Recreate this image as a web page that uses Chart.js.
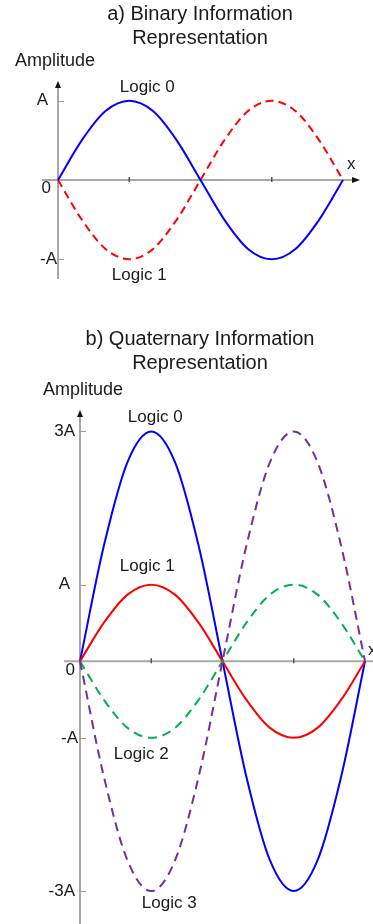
<!DOCTYPE html>
<html>
<head>
<meta charset="utf-8">
<script src="https://cdn.jsdelivr.net/npm/chart.js@4/dist/chart.umd.min.js"></script>
<style>
  html, body { margin: 0; padding: 0; background: #fff; }
  canvas { display: block; }
</style>
</head>
<body>
<canvas id="binary" width="373" height="300"></canvas>
<canvas id="quaternary" width="373" height="624"></canvas>
<script>
// one full period, 12 steps
const phase = ['0', '1', '2', '3', '4', '5', '6', '7', '8', '9', '10', '11', '12'];

// a) binary: amplitude A
const binLogic0 = [0, 0.5, 0.87, 1, 0.87, 0.5, 0, -0.5, -0.87, -1, -0.87, -0.5, 0];
const binLogic1 = [0, -0.5, -0.87, -1, -0.87, -0.5, 0, 0.5, 0.87, 1, 0.87, 0.5, 0];
const binTickValues = [1, 0, -1];
const binTickLabels = ['A', '0', '-A'];

// b) quaternary: amplitudes 3A and A
const quatLogic0 = [0, 1.5, 2.6, 3, 2.6, 1.5, 0, -1.5, -2.6, -3, -2.6, -1.5, 0];
const quatLogic1 = [0, 0.5, 0.87, 1, 0.87, 0.5, 0, -0.5, -0.87, -1, -0.87, -0.5, 0];
const quatLogic2 = [0, -0.5, -0.87, -1, -0.87, -0.5, 0, 0.5, 0.87, 1, 0.87, 0.5, 0];
const quatLogic3 = [0, -1.5, -2.6, -3, -2.6, -1.5, 0, 1.5, 2.6, 3, 2.6, 1.5, 0];
const quatTickValues = [3, 1, 0, -1, -3];
const quatTickLabels = ['3A', 'A', '0', '-A', '-3A'];

const FONT = "'Liberation Sans', Arial, sans-serif";
const INK = '#1a1a1a';

function text(ctx, str, x, y, size, align) {
  ctx.font = size + 'px ' + FONT;
  ctx.fillStyle = INK;
  ctx.textAlign = align || 'center';
  ctx.textBaseline = 'middle';
  ctx.fillText(str, x, y);
}

// axes with arrows, tick marks and all labels drawn round the plot
function decorations(cfg) {
  return {
    id: 'decorations',
    beforeDatasetsDraw(chart) {
      const { ctx, chartArea, scales: { x, y } } = chart;
      const x0 = x.getPixelForValue(0);
      const y0 = y.getPixelForValue(0);
      ctx.save();
      ctx.strokeStyle = '#a8a8a8';
      ctx.lineWidth = 2;
      ctx.beginPath();
      ctx.moveTo(cfg.xAxisFrom, y0);
      ctx.lineTo(cfg.xAxisTo, y0);
      ctx.moveTo(x0, chartArea.top + 2);
      ctx.lineTo(x0, chartArea.bottom);
      ctx.stroke();

      // y tick marks
      ctx.strokeStyle = '#9a9a9a';
      ctx.lineWidth = 1;
      cfg.tickValues.forEach(v => {
        if (v === 0) return;
        const py = Math.round(y.getPixelForValue(v)) + 0.5;
        ctx.beginPath();
        ctx.moveTo(x0, py);
        ctx.lineTo(x0 + 6, py);
        ctx.stroke();
      });
      // x tick marks at the peaks
      ctx.strokeStyle = '#555';
      ctx.lineWidth = 1.5;
      [3, 9].forEach(i => {
        const px = x.getPixelForValue(i);
        ctx.beginPath();
        ctx.moveTo(px, y0 - 3);
        ctx.lineTo(px, y0 + 2);
        ctx.stroke();
      });

      // arrow heads
      ctx.fillStyle = '#111';
      ctx.beginPath();
      ctx.moveTo(x0, chartArea.top);
      ctx.lineTo(x0 - 3, chartArea.top + 7);
      ctx.lineTo(x0 + 3, chartArea.top + 7);
      ctx.closePath();
      ctx.fill();
      if (cfg.xArrow) {
        ctx.beginPath();
        ctx.moveTo(cfg.xAxisTo + 2, y0);
        ctx.lineTo(cfg.xAxisTo - 6, y0 - 3);
        ctx.lineTo(cfg.xAxisTo - 6, y0 + 3);
        ctx.closePath();
        ctx.fill();
      }
      ctx.restore();
    },
    afterDraw(chart) {
      const { ctx, scales: { x, y } } = chart;
      ctx.save();
      cfg.title.forEach((line, i) => text(ctx, line, 200, cfg.titleY + i * 24, 20));
      text(ctx, 'Amplitude', cfg.ampX, cfg.ampY, 18, 'left');
      cfg.tickValues.forEach((v, i) => {
        const o = cfg.tickOffsets[i];
        text(ctx, cfg.tickLabels[i], o[0], y.getPixelForValue(v) + o[1], 17, 'right');
      });
      text(ctx, 'x', cfg.xLabel[0], y.getPixelForValue(0) + cfg.xLabel[1], 17, 'left');
      cfg.logic.forEach(l => {
        text(ctx, l.label, x.getPixelForValue(l.at) + l.dx, y.getPixelForValue(l.value) + l.dy, 17);
      });
      ctx.restore();
    }
  };
}

function line(data, color, dash) {
  return {
    data: data,
    borderColor: color,
    borderWidth: 2,
    borderDash: dash || [],
    pointRadius: 0,
    cubicInterpolationMode: 'monotone',
    fill: false,
    clip: false
  };
}

function baseOptions(padding, yMin, yMax) {
  return {
    responsive: false,
    animation: false,
    events: [],
    layout: { padding: padding },
    plugins: { legend: { display: false }, tooltip: { enabled: false } },
    scales: {
      x: { type: 'category', display: false, offset: false },
      y: { display: false, min: yMin, max: yMax }
    }
  };
}

new Chart(document.getElementById('binary'), {
  type: 'line',
  data: {
    labels: phase,
    datasets: [
      line(binLogic0, '#0000ff'),
      line(binLogic1, '#ff0000', [8, 5])
    ]
  },
  options: baseOptions({ left: 58, right: 30, top: 81, bottom: 21 }, -1.25, 1.25),
  plugins: [decorations({
    title: ['a) Binary Information', 'Representation'],
    titleY: 14,
    ampX: 15, ampY: 61,
    xAxisFrom: 42, xAxisTo: 358, xArrow: true,
    xLabel: [347, -16],
    tickValues: binTickValues,
    tickLabels: binTickLabels,
    tickOffsets: [[48, 0], [51, 8], [57, 0]],
    logic: [
      { label: 'Logic 0', at: 3, value: 1, dx: 18, dy: -13 },
      { label: 'Logic 1', at: 3, value: -1, dx: 10, dy: 16 }
    ]
  })]
});

new Chart(document.getElementById('quaternary'), {
  type: 'line',
  data: {
    labels: phase,
    datasets: [
      line(quatLogic3, '#7030a0', [9, 6]),
      line(quatLogic2, '#00b050', [9, 6]),
      line(quatLogic1, '#ff0000'),
      line(quatLogic0, '#0000ff')
    ]
  },
  options: baseOptions({ left: 80, right: 8, top: 110, bottom: 0 }, -3.43, 3.28),
  plugins: [decorations({
    title: ['b) Quaternary Information', 'Representation'],
    titleY: 39,
    ampX: 43, ampY: 90,
    xAxisFrom: 64, xAxisTo: 380, xArrow: false,
    xLabel: [368, -11],
    tickValues: quatTickValues,
    tickLabels: quatTickLabels,
    tickOffsets: [[75, 0], [70, 0], [75, 9], [78, 0], [75, 0]],
    logic: [
      { label: 'Logic 0', at: 3, value: 3, dx: 4, dy: -14 },
      { label: 'Logic 1', at: 3, value: 1, dx: -4, dy: -18 },
      { label: 'Logic 2', at: 3, value: -1, dx: -10, dy: 16 },
      { label: 'Logic 3', at: 3, value: -3, dx: 18, dy: 12 }
    ]
  })]
});
</script>
</body>
</html>
